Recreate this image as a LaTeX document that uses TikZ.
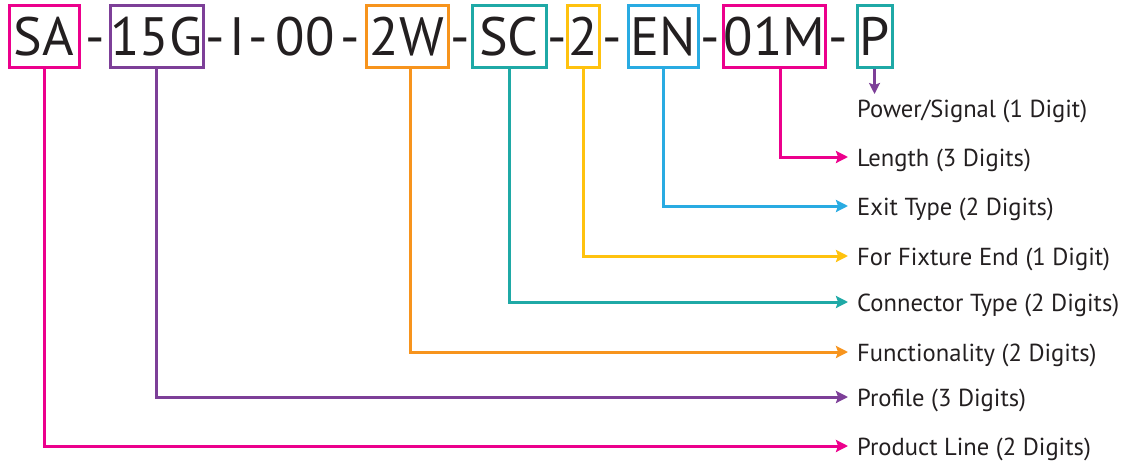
\documentclass[tikz,border=0pt]{standalone}
\usepackage{fontspec}
\setmainfont{PT Sans}
\usetikzlibrary{arrows.meta}
\definecolor{cmag}{HTML}{EC008C}
\definecolor{cpur}{HTML}{7D3F98}
\definecolor{cora}{HTML}{F7941D}
\definecolor{ctea}{HTML}{1FA9A6}
\definecolor{cyel}{HTML}{FFC20E}
\definecolor{cblu}{HTML}{29ABE2}
\definecolor{ctxt}{HTML}{231F20}
\tikzset{
  big/.style={font=\fontsize{54}{60}\selectfont, text=ctxt, text height=38pt, text depth=0pt, inner xsep=0pt, inner ysep=11.5pt, anchor=center},
  codebox/.style={big, draw=#1, line width=3pt, minimum height=61pt},
  sep/.style={big, draw=none},
  lab/.style={font=\fontsize{24.6}{28}\selectfont, text=ctxt, anchor=west, inner xsep=9pt, inner ysep=2pt, yshift=-3pt},
  conn/.style={draw=#1, line width=3pt, -{Stealth[length=12pt,width=12pt,inset=2pt]}},
}
\begin{document}
\begin{tikzpicture}[x=1pt,y=-1pt]
\useasboundingbox (0,0) rectangle (1123,460);
% code boxes
\node[codebox=cmag, minimum width=70pt] (SA) at (44,36.5) {SA};
\node[sep] (d1) at (95,36.5) {-};
\node[codebox=cpur, minimum width=93pt] (PG) at (156.5,36.5) {15G};
\node[sep] (d2) at (215,36.5) {-};
\node[sep] (I) at (237,36.5) {I};
\node[sep] (d3) at (258,36.5) {-};
\node[sep] (OO) at (305,36.5) {00};
\node[sep] (d4) at (350,36.5) {-};
\node[codebox=cora, minimum width=82pt] (TW) at (407,36.5) {2W};
\node[sep] (d5) at (460,36.5) {-};
\node[codebox=ctea, minimum width=74pt] (SC) at (509,36.5) {SC};
\node[sep] (d6) at (557,36.5) {-};
\node[codebox=cyel, minimum width=32pt] (TWO) at (583,36.5) {2};
\node[sep] (d7) at (612,36.5) {-};
\node[codebox=cblu, minimum width=70pt] (EN) at (663,36.5) {EN};
\node[sep] (d8) at (710,36.5) {-};
\node[codebox=cmag, minimum width=99pt] (OM) at (774.5,36.5) {01M};
\node[sep] (d9) at (838,36.5) {-};
\node[codebox=ctea, minimum width=35pt] (P) at (874.5,36.5) {P};
% labels
\node[lab] (lPS) at (848,108) {Power/Signal (1 Digit)};
\node[lab] (lLE) at (848,157) {Length (3 Digits)};
\node[lab] (lEX) at (848,206) {Exit Type (2 Digits)};
\node[lab] (lFE) at (848,256) {For Fixture End (1 Digit)};
\node[lab] (lCT) at (848,302) {Connector Type (2 Digits)};
\node[lab] (lFU) at (848,352) {Functionality (2 Digits)};
\node[lab] (lPR) at (848,397) {Profile (3 Digits)};
\node[lab] (lPL) at (848,446) {Product Line (2 Digits)};
% connector end points on the label rows
\coordinate (eLE) at (848,157);
\coordinate (eEX) at (848,206);
\coordinate (eFE) at (848,256);
\coordinate (eCT) at (848,302);
\coordinate (eFU) at (848,352);
\coordinate (ePR) at (848,397);
\coordinate (ePL) at (848,446);
% connectors
\coordinate (ptip) at (874.5,94);
\draw[draw=cpur, line width=2.5pt, -{Stealth[length=11pt,width=11pt,inset=2pt]}] (P.south) -- (ptip);
\draw[conn=cmag] ([xshift=6pt]OM.south) |- (eLE);
\draw[conn=cblu] (EN.south) |- (eEX);
\draw[conn=cyel] (TWO.south) |- (eFE);
\draw[conn=ctea] (SC.south) |- (eCT);
\draw[conn=cora] ([xshift=3pt]TW.south) |- (eFU);
\draw[conn=cpur] (PG.south) |- (ePR);
\draw[conn=cmag] (SA.south) |- (ePL);
\end{tikzpicture}
\end{document}
